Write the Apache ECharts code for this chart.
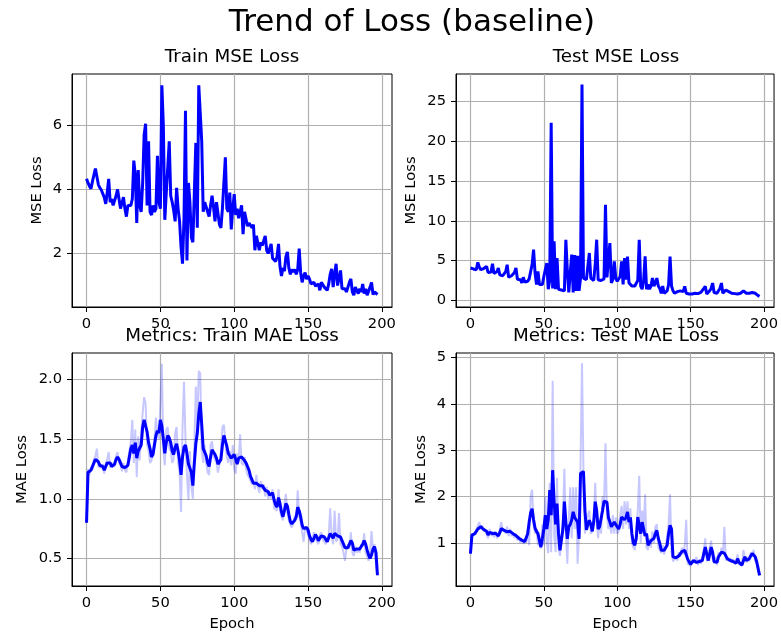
<!DOCTYPE html>
<html><head><meta charset="utf-8">
<script src="https://cdn.jsdelivr.net/npm/echarts@6/dist/echarts.min.js"></script>
<style>html,body{margin:0;padding:0;background:#fff}#c{width:781px;height:639px}</style>
</head><body><div id="c"></div>
<script>
// ---- DATA (epoch index = position in array, 0..197) ----
const trainMSE = [4.33,4.2,4.1,4.02,4.25,4.3,4.65,4.4,4.15,4.05,
3.98,3.92,3.75,3.55,3.9,4.33,3.6,3.7,3.5,3.45,
3.8,4.0,3.7,3.4,3.35,3.76,3.4,3.15,3.5,3.45,
3.5,3.7,4.9,4.45,2.95,4.6,3.5,3.3,4.2,5.7,
6.05,3.5,5.5,3.3,3.2,3.5,3.3,3.4,5.05,3.6,
3.4,7.25,6.0,3.05,3.9,3.95,5.5,3.8,3.6,3.35,
3.0,4.05,3.4,3.0,2.2,1.68,3.1,6.45,1.78,4.2,
3.6,2.5,2.35,2.4,5.45,2.8,7.25,7.2,5.5,3.3,
3.6,3.65,3.3,3.15,3.5,3.8,3.45,3.0,3.6,3.6,
2.9,2.8,3.4,4.2,5.0,3.4,3.3,3.9,2.75,3.4,
3.85,3.2,3.4,3.1,3.3,3.5,2.6,3.3,3.3,2.85,
2.95,2.9,2.8,2.9,2.1,2.55,2.6,2.1,2.35,2.25,
2.4,2.55,2.1,2.0,1.95,2.3,1.85,1.8,1.75,1.9,
2.3,1.6,1.3,1.55,1.45,1.9,2.05,1.55,1.35,1.5,
1.42,1.5,1.35,1.5,2.15,1.4,1.1,1.3,1.4,1.2,
1.3,1.2,1.05,1.0,1.1,0.98,0.95,1.05,0.85,1.1,
1.15,0.95,0.95,0.85,1.05,1.35,1.52,0.95,1.35,1.68,
1.0,0.95,1.47,0.9,0.85,0.9,0.8,0.95,1.1,1.21,
0.8,0.7,0.95,0.85,0.75,0.9,0.8,1.05,0.75,0.9,
0.7,0.75,0.95,1.1,0.72,0.8,0.74,0.72];

const testMSE = [4.06,4.0,3.95,3.9,3.85,4.77,4.2,3.85,3.9,4.0,
3.85,4.27,3.5,3.6,3.55,4.6,3.4,3.35,3.6,4.06,
3.2,3.0,3.1,3.2,3.6,4.48,2.9,3.0,3.1,2.85,
3.5,4.06,2.65,2.8,2.6,2.2,2.9,2.3,2.4,2.4,
2.7,2.5,4.5,6.37,3.5,2.0,3.64,2.0,2.2,2.0,
3.0,3.85,4.69,1.4,2.5,22.3,1.5,7.41,1.4,5.3,
1.4,1.15,1.3,1.5,1.2,7.6,3.8,1.0,3.5,5.74,
1.0,5.7,1.2,5.6,1.2,2.8,27.1,2.8,2.6,2.6,
2.7,5.95,2.8,2.6,2.5,4.5,7.62,2.6,2.4,2.5,
2.6,2.7,12.0,2.9,3.0,7.2,2.2,2.6,4.9,2.8,
2.4,2.6,3.0,4.9,2.0,5.3,2.6,5.5,2.2,2.0,
1.8,1.6,1.8,1.7,2.5,7.62,1.8,1.4,2.5,5.53,
1.4,2.0,1.4,1.8,2.8,1.8,2.2,2.8,1.8,1.5,
0.9,1.8,0.9,1.0,1.2,2.0,5.5,1.8,1.2,0.9,
0.92,1.1,1.0,1.2,1.3,1.1,1.76,0.9,0.9,0.8,
0.7,0.8,0.85,0.9,0.8,0.85,0.9,1.0,1.2,1.5,
1.76,0.8,0.9,1.2,1.5,2.18,1.0,0.8,0.9,1.2,
1.5,2.18,0.9,1.1,1.3,1.3,1.1,1.0,0.9,0.9,
0.85,0.9,0.8,0.9,0.9,1.0,1.2,1.34,0.9,0.8,
0.9,0.8,1.0,1.1,0.9,0.8,0.6,0.5];

const trainMAERaw = [0.80,1.25,1.20,1.26,1.24,1.33,1.36,1.42,1.27,1.28,
1.26,1.29,1.21,1.30,1.33,1.39,1.26,1.25,1.30,1.27,
1.36,1.39,1.30,1.28,1.23,1.30,1.24,1.22,1.32,1.40,
1.48,1.66,1.30,1.58,1.18,1.52,1.32,1.55,1.72,1.85,
1.80,1.45,1.40,1.30,1.32,1.42,1.50,1.68,1.55,1.50,
1.80,2.13,1.40,1.28,1.58,1.60,1.42,1.40,1.30,1.33,
1.55,1.60,1.30,1.22,0.89,1.60,1.98,1.50,1.20,0.99,
1.40,1.10,1.00,1.45,1.94,1.60,2.07,2.05,1.40,1.30,
1.45,1.30,1.22,1.20,1.45,1.48,1.35,1.33,1.30,1.22,
1.28,1.40,1.60,1.62,1.48,1.35,1.30,1.40,1.28,1.45,
1.25,1.21,1.38,1.30,1.54,1.30,1.28,1.35,1.25,1.20,
1.18,1.15,1.12,1.15,1.08,1.20,1.10,1.05,1.15,1.08,
1.12,1.02,1.10,1.00,1.05,1.00,1.08,0.92,0.93,0.90,
1.08,0.90,0.85,0.82,0.95,1.04,0.88,0.82,0.78,0.76,
0.80,0.86,0.82,1.07,0.85,0.80,0.72,0.64,0.76,0.74,
0.70,0.66,0.62,0.63,0.72,0.68,0.64,0.62,0.70,0.72,
0.66,0.65,0.62,0.63,0.70,0.92,0.68,0.62,0.90,0.64,
0.66,0.88,0.62,0.60,0.55,0.48,0.58,0.62,0.58,0.72,
0.55,0.52,0.60,0.55,0.58,0.55,0.62,0.60,0.71,0.55,
0.52,0.48,0.55,0.73,0.56,0.62,0.45,0.36];

const trainMAESmooth = [0.80,1.22,1.22,1.24,1.25,1.30,1.33,1.34,1.31,1.28,
1.28,1.27,1.24,1.27,1.30,1.31,1.30,1.27,1.27,1.29,
1.33,1.35,1.33,1.30,1.27,1.27,1.26,1.25,1.28,1.35,
1.42,1.45,1.38,1.47,1.34,1.40,1.39,1.45,1.60,1.66,
1.67,1.56,1.47,1.42,1.35,1.37,1.45,1.53,1.57,1.55,
1.66,1.61,1.50,1.38,1.47,1.53,1.51,1.47,1.40,1.37,
1.43,1.46,1.40,1.32,1.20,1.35,1.43,1.45,1.38,1.29,
1.30,1.22,1.11,1.30,1.46,1.55,1.71,1.81,1.62,1.42,
1.41,1.36,1.30,1.27,1.35,1.41,1.40,1.37,1.34,1.29,
1.29,1.33,1.45,1.53,1.52,1.44,1.38,1.36,1.34,1.35,
1.37,1.33,1.29,1.34,1.34,1.35,1.34,1.32,1.30,1.27,
1.24,1.19,1.16,1.13,1.13,1.13,1.13,1.11,1.10,1.11,
1.10,1.07,1.08,1.06,1.03,1.02,1.05,0.99,0.95,0.93,
1.01,0.96,0.89,0.85,0.90,0.96,0.94,0.87,0.81,0.79,
0.78,0.82,0.85,0.93,0.90,0.85,0.78,0.75,0.74,0.76,
0.74,0.69,0.66,0.64,0.67,0.70,0.68,0.65,0.66,0.69,
0.70,0.68,0.66,0.64,0.65,0.71,0.72,0.67,0.71,0.70,
0.69,0.68,0.68,0.65,0.62,0.59,0.58,0.59,0.62,0.65,
0.63,0.57,0.57,0.58,0.57,0.58,0.60,0.62,0.65,0.62,
0.57,0.53,0.50,0.53,0.58,0.60,0.55,0.36];

const testMAERaw = [0.77,1.20,1.15,1.22,1.28,1.38,1.45,1.30,1.38,1.25,
1.30,1.20,1.10,1.30,1.15,1.25,1.12,1.25,1.10,1.15,
1.30,1.45,1.25,1.30,1.20,1.35,1.15,1.30,1.15,1.22,
1.10,1.20,1.05,1.15,1.00,1.08,0.98,1.05,1.00,1.30,
0.95,2.00,2.15,1.40,1.20,1.30,0.95,1.00,0.88,1.40,
0.95,2.00,1.00,0.78,2.30,0.80,4.50,1.20,0.80,2.40,
0.90,0.72,0.75,1.50,2.60,1.20,0.55,1.50,2.20,1.10,
2.20,1.30,2.20,0.55,1.20,2.70,4.88,2.60,1.20,1.20,
1.60,1.70,1.20,1.25,1.50,2.30,1.50,1.10,1.50,1.20,
2.00,1.80,3.15,1.60,1.30,1.40,1.20,1.60,1.20,1.55,
1.20,1.25,1.60,1.80,1.30,1.90,1.40,1.90,1.30,1.75,
1.00,0.90,0.85,1.30,1.70,2.45,1.00,1.70,1.30,2.05,
0.90,0.85,1.10,0.90,1.25,1.00,1.35,1.40,0.90,0.85,
0.78,0.95,0.75,0.90,0.90,1.40,2.05,0.80,0.60,0.65,
0.70,0.62,0.80,0.70,0.90,0.75,0.95,1.50,0.55,0.55,
0.50,0.62,0.65,0.58,0.70,0.52,0.65,0.55,0.68,0.85,
1.10,0.60,0.58,0.90,1.05,0.65,0.55,0.70,0.52,0.80,
0.70,0.90,0.75,1.35,0.62,0.70,0.60,0.68,0.58,0.65,
0.55,0.60,0.75,0.52,0.58,0.50,0.85,0.65,0.58,0.70,
0.60,0.80,0.75,0.85,0.62,0.55,0.40,0.30];

const testMAESmooth = [0.77,1.17,1.18,1.20,1.24,1.30,1.34,1.35,1.33,1.29,
1.28,1.25,1.17,1.23,1.21,1.20,1.18,1.21,1.17,1.15,
1.22,1.31,1.30,1.27,1.25,1.24,1.22,1.25,1.22,1.20,
1.17,1.16,1.12,1.10,1.08,1.06,1.05,1.03,1.04,1.20,
1.45,1.65,1.74,1.50,1.32,1.25,1.20,1.05,0.91,1.10,
1.30,1.60,1.30,1.50,2.14,1.60,2.57,1.90,1.40,1.85,
1.20,0.84,0.84,1.30,1.89,1.45,1.09,1.35,1.40,1.50,
1.67,1.55,1.50,1.45,1.09,2.50,2.50,2.54,1.70,1.28,
1.40,1.49,1.40,1.25,1.45,1.89,1.70,1.30,1.35,1.35,
1.70,1.90,1.90,1.88,1.55,1.45,1.35,1.38,1.45,1.42,
1.35,1.30,1.40,1.56,1.56,1.50,1.55,1.67,1.45,1.55,
1.20,1.00,0.95,1.10,1.56,1.58,1.20,1.45,1.42,1.15,
1.20,0.95,1.00,1.05,1.07,1.10,1.20,1.27,1.10,0.99,
0.84,0.86,0.84,0.88,0.95,1.20,1.38,1.30,0.70,0.66,
0.68,0.70,0.72,0.75,0.81,0.80,0.84,0.80,0.65,0.59,
0.54,0.58,0.62,0.65,0.58,0.56,0.60,0.58,0.62,0.77,
0.91,0.77,0.62,0.75,0.91,0.80,0.60,0.62,0.58,0.70,
0.75,0.80,0.81,0.78,0.72,0.66,0.65,0.62,0.62,0.60,
0.60,0.56,0.66,0.58,0.55,0.52,0.62,0.70,0.62,0.62,
0.66,0.72,0.77,0.80,0.70,0.60,0.45,0.30];

const xTicks = [0, 50, 100, 150, 200];
const yTicksTrainMSE = [2, 4, 6];
const yTicksTestMSE = [0, 5, 10, 15, 20, 25];
const yTicksTrainMAE = [0.5, 1.0, 1.5, 2.0];
const yTicksTestMAE = [1, 2, 3, 4, 5];

const mainTitle = 'Trend of Loss (baseline)';
const panelTitles = ['Train MSE Loss', 'Test MSE Loss', 'Metrics: Train MAE Loss', 'Metrics: Test MAE Loss'];

// ---- STYLE / LAYOUT ----
const FONT = 'DejaVu Sans';
const TICK_FS = 14.7;
const grids = [
  {left: 72, top: 74, width: 320, height: 233},
  {left: 456, top: 74, width: 320, height: 233},
  {left: 72, top: 353, width: 320, height: 233},
  {left: 456, top: 353, width: 320, height: 233}
];
const yRanges = [[0.33, 7.6], [-0.83, 28.43], [0.27, 2.22], [0.07, 5.10]];
const yTickSets = [yTicksTrainMSE, yTicksTestMSE, yTicksTrainMAE, yTicksTestMAE];
const yNames = ['MSE Loss', 'MSE Loss', 'MAE Loss', 'MAE Loss'];
const yNameGaps = [27.5, 37.5, 42, 27.5];
const yFormat = [v => String(v), v => String(v), v => v.toFixed(1), v => String(v)];

const toPts = arr => arr.map((v, i) => [i, v]);

const gridLine = {show: true, lineStyle: {color: '#b0b0b0', width: 1.2}};
const axisLineS = {show: true, onZero: false, lineStyle: {color: '#000', width: 1}};

const xAxes = grids.map((g, k) => ({
  type: 'value', gridIndex: k, min: -9.85, max: 206.85,
  axisLine: axisLineS,
  axisTick: {show: true, length: 5, customValues: xTicks, lineStyle: {color: '#000'}},
  axisLabel: {customValues: xTicks, margin: 9.5, color: '#000', fontFamily: FONT, fontSize: TICK_FS},
  splitLine: gridLine,
  name: k >= 2 ? 'Epoch' : '',
  nameLocation: 'middle', nameGap: 30.5,
  nameTextStyle: {color: '#000', fontFamily: FONT, fontSize: TICK_FS}
}));

const yAxes = grids.map((g, k) => ({
  type: 'value', gridIndex: k, min: yRanges[k][0], max: yRanges[k][1],
  axisLine: axisLineS,
  axisTick: {show: true, length: 5, customValues: yTickSets[k], lineStyle: {color: '#000'}},
  axisLabel: {customValues: yTickSets[k], margin: 10, color: '#000', fontFamily: FONT, fontSize: TICK_FS,
    formatter: yFormat[k]},
  splitLine: gridLine,
  name: yNames[k], nameLocation: 'middle', nameGap: yNameGaps[k],
  nameTextStyle: {color: '#000', fontFamily: FONT, fontSize: TICK_FS}
}));

const dark = {color: '#0000ff', width: 3};
const light = {color: 'rgba(0,0,255,0.22)', width: 2};
const mk = (k, arr, ls, z) => ({
  type: 'line', xAxisIndex: k, yAxisIndex: k, data: toPts(arr),
  showSymbol: false, symbol: 'none', lineStyle: ls, itemStyle: {color: ls.color}, z: z,
  emphasis: {disabled: true}, silent: true
});

const titleCenters = [[232, 57], [616, 57], [232, 336.4], [616, 336.4]];
const graphics = [{
  type: 'text', x: 412, y: 22.6, z: 100,
  style: {text: mainTitle, fill: '#000', font: '31px "DejaVu Sans"',
    textAlign: 'center', textVerticalAlign: 'middle', align: 'center', verticalAlign: 'middle'}
}].concat(panelTitles.map((t, k) => ({
  type: 'text', x: titleCenters[k][0], y: titleCenters[k][1], z: 100,
  style: {text: t, fill: '#000', font: '18.3px "DejaVu Sans"',
    textAlign: 'center', textVerticalAlign: 'middle', align: 'center', verticalAlign: 'middle'}
})));

const chart = echarts.init(document.getElementById('c'), null, {renderer: 'canvas'});
chart.setOption({
  animation: false,
  backgroundColor: '#fff',
  textStyle: {fontFamily: FONT},
  grid: grids.map(g => Object.assign({show: true, borderColor: '#000', borderWidth: 1, backgroundColor: 'transparent'}, g)),
  xAxis: xAxes,
  yAxis: yAxes,
  series: [
    mk(0, trainMSE, dark, 3),
    mk(1, testMSE, dark, 3),
    mk(2, trainMAERaw, light, 2),
    mk(2, trainMAESmooth, dark, 3),
    mk(3, testMAERaw, light, 2),
    mk(3, testMAESmooth, dark, 3)
  ],
  graphic: graphics
});
</script></body></html>
